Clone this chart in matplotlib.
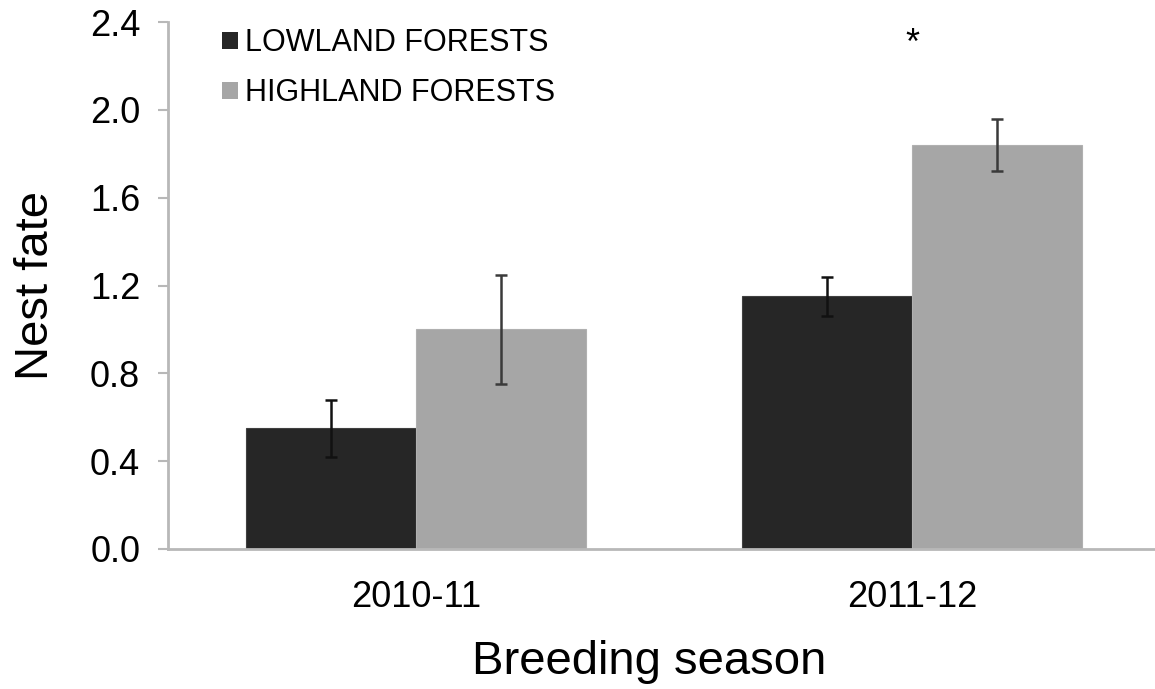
import numpy as np
import matplotlib
matplotlib.use("Agg")
import matplotlib.pyplot as plt
from matplotlib.patches import Patch

plt.rcParams['font.family'] = ['Liberation Sans', 'DejaVu Sans']

seasons = ["2010-11", "2011-12"]
habitats = ["LOWLAND FORESTS", "HIGHLAND FORESTS"]
lowland = [0.55, 1.15]
lowland_err = [0.13, 0.09]
highland = [1.00, 1.84]
highland_err = [0.25, 0.12]
colors = ["#262626", "#a6a6a6"]
axis_grey = "#b8b8b8"


def main():
    fig = plt.figure(figsize=(11.55, 6.89), dpi=100)
    ax = fig.add_axes([168 / 1155, 1 - 549 / 689, 992 / 1155, 527 / 689])

    x = np.arange(len(seasons))
    w = 0.343

    ax.bar(x - w / 2, lowland, w, color=colors[0], edgecolor="#404040", linewidth=0.8, zorder=2)
    ax.bar(x + w / 2, highland, w, color=colors[1], edgecolor="#b0b0b0", linewidth=0.8, zorder=2)
    ax.errorbar(x - w / 2, lowland, yerr=lowland_err, fmt="none", ecolor="#111111",
                elinewidth=1.8, capsize=4.5, capthick=1.8, zorder=3)
    ax.errorbar(x + w / 2, highland, yerr=highland_err, fmt="none", ecolor="#3a3a3a",
                elinewidth=1.8, capsize=4.5, capthick=1.8, zorder=3)

    # significance marker for 2011-12
    ax.text(x[1], 2.30, "*", ha="center", va="center", fontsize=26)

    ax.set_xlim(-0.5, 1.5)
    ax.set_ylim(0, 2.4)
    ax.set_yticks(np.arange(0, 2.41, 0.4))
    ax.set_yticklabels(["%.1f" % v for v in np.arange(0, 2.41, 0.4)])
    ax.set_xticks(x)
    ax.set_xticklabels(seasons)

    for s in ["top", "right"]:
        ax.spines[s].set_visible(False)
    for s in ["left", "bottom"]:
        ax.spines[s].set_color(axis_grey)
        ax.spines[s].set_linewidth(2)

    ax.tick_params(axis="y", direction="out", length=7, width=1.5, color=axis_grey,
                   labelsize=26, pad=13)
    ax.tick_params(axis="x", length=0, labelsize=26, pad=22)

    ax.set_xlabel("Breeding season", fontsize=34)
    ax.xaxis.set_label_coords(0.485, -0.172)
    ax.text(-0.133, 0.5, "Nest fate", rotation=90, ha="center", va="center",
            fontsize=34, transform=ax.transAxes)

    handles = [Patch(facecolor=c, edgecolor="none") for c in colors]
    ax.legend(handles, habitats, loc="upper left", bbox_to_anchor=(0.027, 1.04),
              frameon=False, fontsize=22, handlelength=0.5, handleheight=0.5,
              handletextpad=0.25, labelspacing=0.65)

    fig.savefig("out.png", dpi=100)


if __name__ == "__main__":
    main()
